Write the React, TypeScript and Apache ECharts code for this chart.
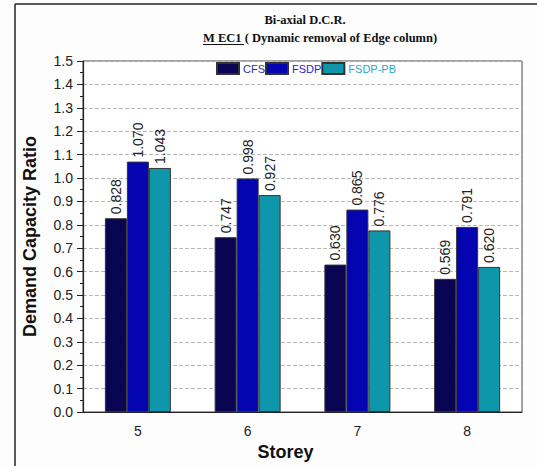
import React, { useEffect, useRef } from "react";
import * as echarts from "echarts";

const storeys = ["5", "6", "7", "8"];
const seriesNames = ["CFS", "FSDP", "FSDP-PB"];
const cfsValues = [0.828, 0.747, 0.63, 0.569];
const fsdpValues = [1.07, 0.998, 0.865, 0.791];
const fsdpPbValues = [1.043, 0.927, 0.776, 0.62];
const barColors = ["#0a0552", "#0404b0", "#0e97aa"];
const legendTextColors = ["#30309a", "#2626d8", "#2aa8c4"];
const titleLine1 = "Bi-axial D.C.R.";
const titleLine2Underlined = "M EC1";
const titleLine2Rest = " ( Dynamic removal of Edge column)";
const yAxisTitle = "Demand Capacity Ratio";
const xAxisTitle = "Storey";

export default function App() {
  const ref = useRef<HTMLDivElement>(null);
  useEffect(() => {
    if (!ref.current) return;
    const chart = echarts.init(ref.current, undefined, { renderer: "svg" });
    const values = [cfsValues, fsdpValues, fsdpPbValues];
    const font = "Arial, 'Liberation Sans', sans-serif";
    const serif = "'Times New Roman', 'Liberation Serif', serif";
    chart.setOption({
      animation: false,
      backgroundColor: "#fdfdfd",
      grid: {
        left: 83,
        top: 61,
        width: 439,
        height: 351,
        show: true,
        backgroundColor: "#ffffff",
        borderColor: "#444",
        borderWidth: 1,
      },
      legend: {
        left: 216,
        top: 62,
        padding: 0,
        itemWidth: 22,
        itemHeight: 11,
        itemGap: 0,
        icon: "rect",
        data: seriesNames.map((n, i) => ({
          name: n,
          textStyle: { color: legendTextColors[i] },
        })),
        textStyle: { fontSize: 11, fontFamily: font, padding: [0, 0, 0, -1] },
      },
      xAxis: [
        {
          type: "category",
          data: storeys,
          name: xAxisTitle,
          nameLocation: "middle",
          nameGap: 27,
          nameTextStyle: {
            fontSize: 18,
            fontWeight: "bold",
            color: "#111",
            fontFamily: font,
            padding: [0, 34, 0, 0],
          },
          axisLine: { lineStyle: { color: "#222", width: 1.2 } },
          axisTick: { alignWithLabel: true, length: 8, lineStyle: { color: "#222" } },
          axisLabel: { fontSize: 14, color: "#222", margin: 12, fontFamily: font },
        },
        {
          type: "category",
          data: storeys,
          position: "bottom",
          axisLine: { show: false },
          axisTick: { length: 3, lineStyle: { color: "#222" } },
          axisLabel: { show: false },
        },
      ],
      yAxis: {
        type: "value",
        min: 0,
        max: 1.5,
        interval: 0.1,
        name: yAxisTitle,
        nameLocation: "middle",
        nameGap: 44,
        nameTextStyle: { fontSize: 18, fontWeight: "bold", color: "#111", fontFamily: font },
        axisLine: { show: true, lineStyle: { color: "#222", width: 1.2 } },
        axisTick: { show: true, length: 6, lineStyle: { color: "#222" } },
        minorTick: { show: true, splitNumber: 2, length: 3, lineStyle: { color: "#222" } },
        axisLabel: {
          fontSize: 14,
          color: "#222",
          margin: 10,
          fontFamily: font,
          formatter: (v: number) => v.toFixed(1),
        },
        splitLine: { show: true, lineStyle: { color: "#b8b8b8", type: "dashed", width: 1 } },
      },
      series: seriesNames.map((n, i) => ({
        name: n,
        type: "bar",
        xAxisIndex: 0,
        data: values[i],
        barWidth: 22,
        barGap: "0%",
        itemStyle: { color: barColors[i], borderColor: "#333", borderWidth: 1 },
        label: {
          show: true,
          position: "top",
          rotate: 90,
          align: "left",
          verticalAlign: "middle",
          distance: 4,
          fontSize: 14,
          color: "#222",
          fontFamily: font,
          formatter: (p: any) => Number(p.value).toFixed(3),
        },
      })),
      graphic: [
        { type: "line", shape: { x1: 15, y1: 4, x2: 537, y2: 4 }, style: { stroke: "#222", lineWidth: 1.5 } },
        { type: "line", shape: { x1: 15, y1: 4, x2: 15, y2: 466 }, style: { stroke: "#222", lineWidth: 1.5 } },
        {
          type: "text",
          x: 305,
          y: 20,
          style: {
            text: titleLine1,
            font: `bold 12.5px ${serif}`,
            fill: "#111",
            textAlign: "center",
            textVerticalAlign: "middle",
          },
        },
        {
          type: "text",
          x: 203,
          y: 38,
          style: {
            text: titleLine2Underlined + titleLine2Rest,
            font: `bold 12.5px ${serif}`,
            fill: "#111",
            textAlign: "left",
            textVerticalAlign: "middle",
          },
        },
        { type: "line", shape: { x1: 203, y1: 44.5, x2: 244, y2: 44.5 }, style: { stroke: "#111", lineWidth: 1 } },
      ],
    });
    return () => chart.dispose();
  }, []);
  return (
    <div
      ref={ref}
      style={{ position: "fixed", left: 0, top: 0, width: 537, height: 466 }}
    />
  );
}
